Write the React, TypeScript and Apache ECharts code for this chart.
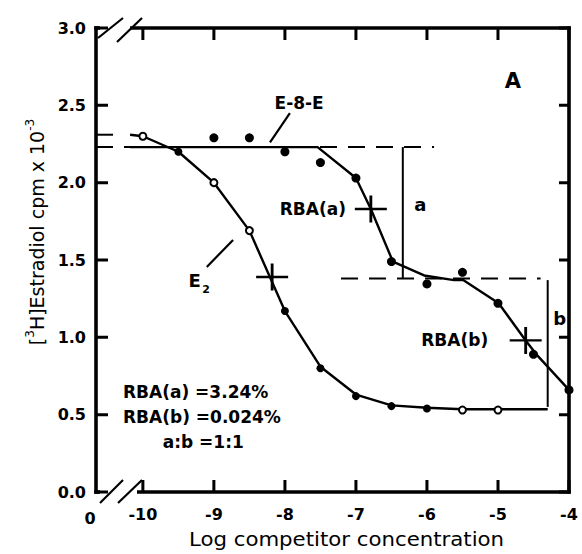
import React, { useEffect, useRef } from "react";
import * as echarts from "echarts";

// ---- axes ----
const xMin = -10.66;
const xMax = -4;
const xTicks = [-10, -9, -8, -7, -6, -5, -4];
const yMin = 0;
const yMax = 3;
const yInterval = 0.5;
const yTicks = [0, 0.5, 1, 1.5, 2, 2.5, 3];

// ---- E2 (estradiol) ----
const e2X = [-10, -9.5, -9, -8.5, -8, -7.5, -7, -6.5, -6, -5.5, -5];
const e2Y = [2.3, 2.2, 2.0, 1.69, 1.17, 0.8, 0.62, 0.555, 0.54, 0.53, 0.53];
const e2Open = [true, false, true, true, false, false, false, false, false, true, true];
const e2CurveX = [-10.18, -10, -9.5, -9, -8.5, -8, -7.5, -7, -6.5, -6, -5.5, -5, -4.3];
const e2CurveY = [2.31, 2.3, 2.2, 2.0, 1.69, 1.17, 0.81, 0.63, 0.56, 0.545, 0.535, 0.535, 0.535];

// ---- E-8-E ----
const e8eX = [-9, -8.5, -8, -7.5, -7, -6.5, -6, -5.5, -5, -4.5, -4];
const e8eY = [2.29, 2.29, 2.2, 2.13, 2.03, 1.49, 1.345, 1.42, 1.22, 0.89, 0.66];
const e8eCurveX = [-10.18, -7.54, -7, -6.79, -6.48, -6.04, -5.62, -5.49, -4.99, -4.61, -4.46, -4];
const e8eCurveY = [2.23, 2.23, 2.03, 1.83, 1.49, 1.4, 1.37, 1.37, 1.22, 0.98, 0.89, 0.66];

// ---- RBA midpoints (crosses) ----
const crossX = [-8.18, -6.79, -4.61];
const crossY = [1.39, 1.83, 0.98];

// ---- reference / bracket lines ----
const upperPlateau = 2.23;
const lowerPlateau = 1.38;
const upperDashX = [-10.66, -5.9];
const lowerDashX = [-7.21, -4.4];
const e2TopDashX = [-10.66, -10.42];
const e2TopDashY = 2.31;
const bracketAX = -6.34;
const bracketBX = -4.3;
const bracketBBottom = 0.55;
const leaderE2 = [[-9.1, 1.455], [-8.73, 1.63]];
const leaderE8E = [[-8.21, 2.26], [-7.93, 2.45]];

const zip = (xs: number[], ys: number[]) => xs.map((x, i) => [x, ys[i]]);

const BLACK = "#000";
const FONT = "DejaVu Sans";

export default function App() {
  const ref = useRef<HTMLDivElement>(null);

  useEffect(() => {
    const chart = echarts.init(ref.current!, null, { renderer: "svg" });

    const lineS = (data: number[][], width: number, type: any = "solid", z = 3) => ({
      type: "line",
      data,
      symbol: "none",
      silent: true,
      z,
      lineStyle: { color: BLACK, width, type, cap: "butt", opacity: 1 },
    });

    const tickLabel = {
      fontFamily: FONT,
      fontWeight: "bold",
      fontSize: 16,
      color: BLACK,
    };
    const hidden = { show: false };

    const option: any = {
      animation: false,
      backgroundColor: "#fff",
      grid: { left: 96, right: 13, top: 28, bottom: 62 },
      xAxis: {
        type: "value",
        min: xMin,
        max: xMax,
        position: "bottom",
        axisLine: hidden,
        axisTick: hidden,
        axisLabel: { ...tickLabel, margin: 14, customValues: xTicks, formatter: (v: number) => String(v) },
        splitLine: hidden,
      },
      yAxis: {
        type: "value",
        min: yMin,
        max: yMax,
        interval: yInterval,
        position: "left",
        axisLine: hidden,
        axisTick: hidden,
        axisLabel: { ...tickLabel, margin: 10, formatter: (v: number) => v.toFixed(1) },
        splitLine: hidden,
      },
      series: [
        lineS(upperDashX.map((x) => [x, upperPlateau]), 2, [17, 11], 2),
        lineS(lowerDashX.map((x) => [x, lowerPlateau]), 2, [17, 11], 2),
        lineS(e2TopDashX.map((x) => [x, e2TopDashY]), 2, "solid", 2),
        lineS([[bracketAX, upperPlateau], [bracketAX, lowerPlateau]], 2),
        lineS([[bracketBX, lowerPlateau - 0.01], [bracketBX, bracketBBottom]], 2),
        lineS(leaderE2, 2.2),
        lineS(leaderE8E, 2.2),
        lineS(zip(e2CurveX, e2CurveY), 2.4, "solid", 4),
        lineS(zip(e8eCurveX, e8eCurveY), 2.4, "solid", 4),
        {
          type: "scatter",
          z: 6,
          silent: true,
          data: e2X.map((x, i) => ({
            value: [x, e2Y[i]],
            symbolSize: e2Open[i] ? 7 : 8,
            itemStyle: e2Open[i]
              ? { color: "#fff", borderColor: BLACK, borderWidth: 2, opacity: 1 }
              : { color: BLACK, opacity: 1 },
          })),
        },
        {
          type: "scatter",
          z: 6,
          silent: true,
          symbolSize: 9,
          itemStyle: { color: BLACK, opacity: 1 },
          data: zip(e8eX, e8eY),
        },
        {
          type: "scatter",
          z: 7,
          silent: true,
          symbol: "path://M16,0 L16,28 M0,14 L32,14",
          symbolSize: [32, 27],
          itemStyle: { color: "rgba(0,0,0,0)", borderColor: BLACK, borderWidth: 2.6, opacity: 1 },
          data: zip(crossX, crossY),
        },
      ],
    };

    chart.setOption(option);

    const px = (v: number[]) => chart.convertToPixel({ gridIndex: 0 }, v) as number[];
    const [L, B] = px([xMin, yMin]);
    const [R, T] = px([xMax, yMax]);

    const txt = (text: string, at: number[], align: string, size = 17, weight = "bold") => {
      const [x, y] = px(at);
      return {
        type: "text",
        z: 50,
        x,
        y,
        style: {
          text,
          fill: BLACK,
          font: `${weight} ${size}px "${FONT}"`,
          textAlign: align,
          textVerticalAlign: "middle",
        },
      };
    };

    const seg = (x1: number, y1: number, x2: number, y2: number, w = 2.2) => ({
      type: "line",
      z: 60,
      silent: true,
      shape: { x1, y1, x2, y2 },
      style: { stroke: BLACK, lineWidth: w },
    });

    // frame (with axis-break gap on the left) and inward ticks
    const AW = 3.6;
    const TW = 3;
    const frame: any[] = [
      seg(L, T - AW / 2, L, B + AW / 2, AW),
      seg(R, T - AW / 2, R, B + AW / 2, AW),
      seg(L - AW / 2, T, L + 4, T, AW),
      seg(L + 34, T, R + AW / 2, T, AW),
      seg(L - AW / 2, B, L + 4, B, AW),
      seg(L + 41, B, R + AW / 2, B, AW),
      // break slashes
      seg(L + 2, T + 10, L + 27, T - 10),
      seg(L + 21, T + 14, L + 46, T - 10),
      seg(L + 4, B + 11, L + 27, B - 12),
      seg(L + 22, B + 11, L + 46, B - 12),
    ];
    xTicks.forEach((v) => {
      const [x] = px([v, yMin]);
      frame.push(seg(x, B, x + 0.01, B - 12, TW));
      frame.push(seg(x, T, x + 0.01, T + 12, TW));
    });
    yTicks.forEach((v) => {
      const [, y] = px([xMin, v]);
      frame.push(seg(L, y, L + 12, y + 0.01, TW));
      frame.push(seg(R, y, R - 10, y + 0.01, TW));
    });

    // y-axis title pieces measured with canvas
    const ctx = document.createElement("canvas").getContext("2d")!;
    const mainFont = `normal 19px "${FONT}"`;
    const supFont = `normal 12px "${FONT}"`;
    const pieces = [
      { t: "[", f: mainFont, dy: 0 },
      { t: "3", f: supFont, dy: -7 },
      { t: "H]Estradiol cpm x 10", f: mainFont, dy: 0 },
      { t: "-3", f: supFont, dy: -7 },
    ];
    const widths = pieces.map((p) => {
      ctx.font = p.f;
      return ctx.measureText(p.t).width;
    });
    const total = widths.reduce((a, b) => a + b, 0);
    let acc = -total / 2;
    const yTitleChildren = pieces.map((p, i) => {
      const el = {
        type: "text",
        x: acc,
        y: p.dy,
        style: { text: p.t, font: p.f, fill: BLACK, textAlign: "left", textVerticalAlign: "middle" },
      };
      acc += widths[i];
      return el;
    });

    const graphic: any[] = [
      ...frame,
      {
        type: "text",
        z: 50,
        x: L - 6,
        y: B + 26,
        style: { text: "0", fill: BLACK, font: `bold 16px "${FONT}"`, textAlign: "center", textVerticalAlign: "middle" },
      },
      txt("E-8-E", [-7.8, 2.515], "center"),
      txt("RBA(a)", [-7.14, 1.83], "right"),
      txt("a", [-6.18, 1.86], "left", 18),
      txt("RBA(b)", [-6.08, 0.98], "left"),
      txt("b", [-4.13, 1.12], "center", 18),
      txt("A", [-4.79, 2.66], "center", 21),
      txt("E", [-9.27, 1.37], "center", 18),
      txt("2", [-9.11, 1.31], "center", 11),
      txt("RBA(a) =3.24%", [-10.28, 0.646], "left", 17),
      txt("RBA(b) =0.024%", [-10.28, 0.485], "left", 17),
      txt("a:b =1:1", [-9.72, 0.323], "left", 17),
      {
        type: "text",
        z: 50,
        x: (L + R) / 2 + 14,
        y: B + 47,
        scaleX: 1.12,
        style: {
          text: "Log competitor concentration",
          fill: BLACK,
          font: `normal 19px "${FONT}"`,
          textAlign: "center",
          textVerticalAlign: "middle",
        },
      },
      {
        type: "group",
        x: 37,
        y: 232,
        rotation: Math.PI / 2,
        children: yTitleChildren,
      },
    ];

    chart.setOption({ graphic });

    return () => chart.dispose();
  }, []);

  return (
    <div
      ref={ref}
      style={{ position: "absolute", left: 0, top: 0, width: 582, height: 554 }}
    />
  );
}
